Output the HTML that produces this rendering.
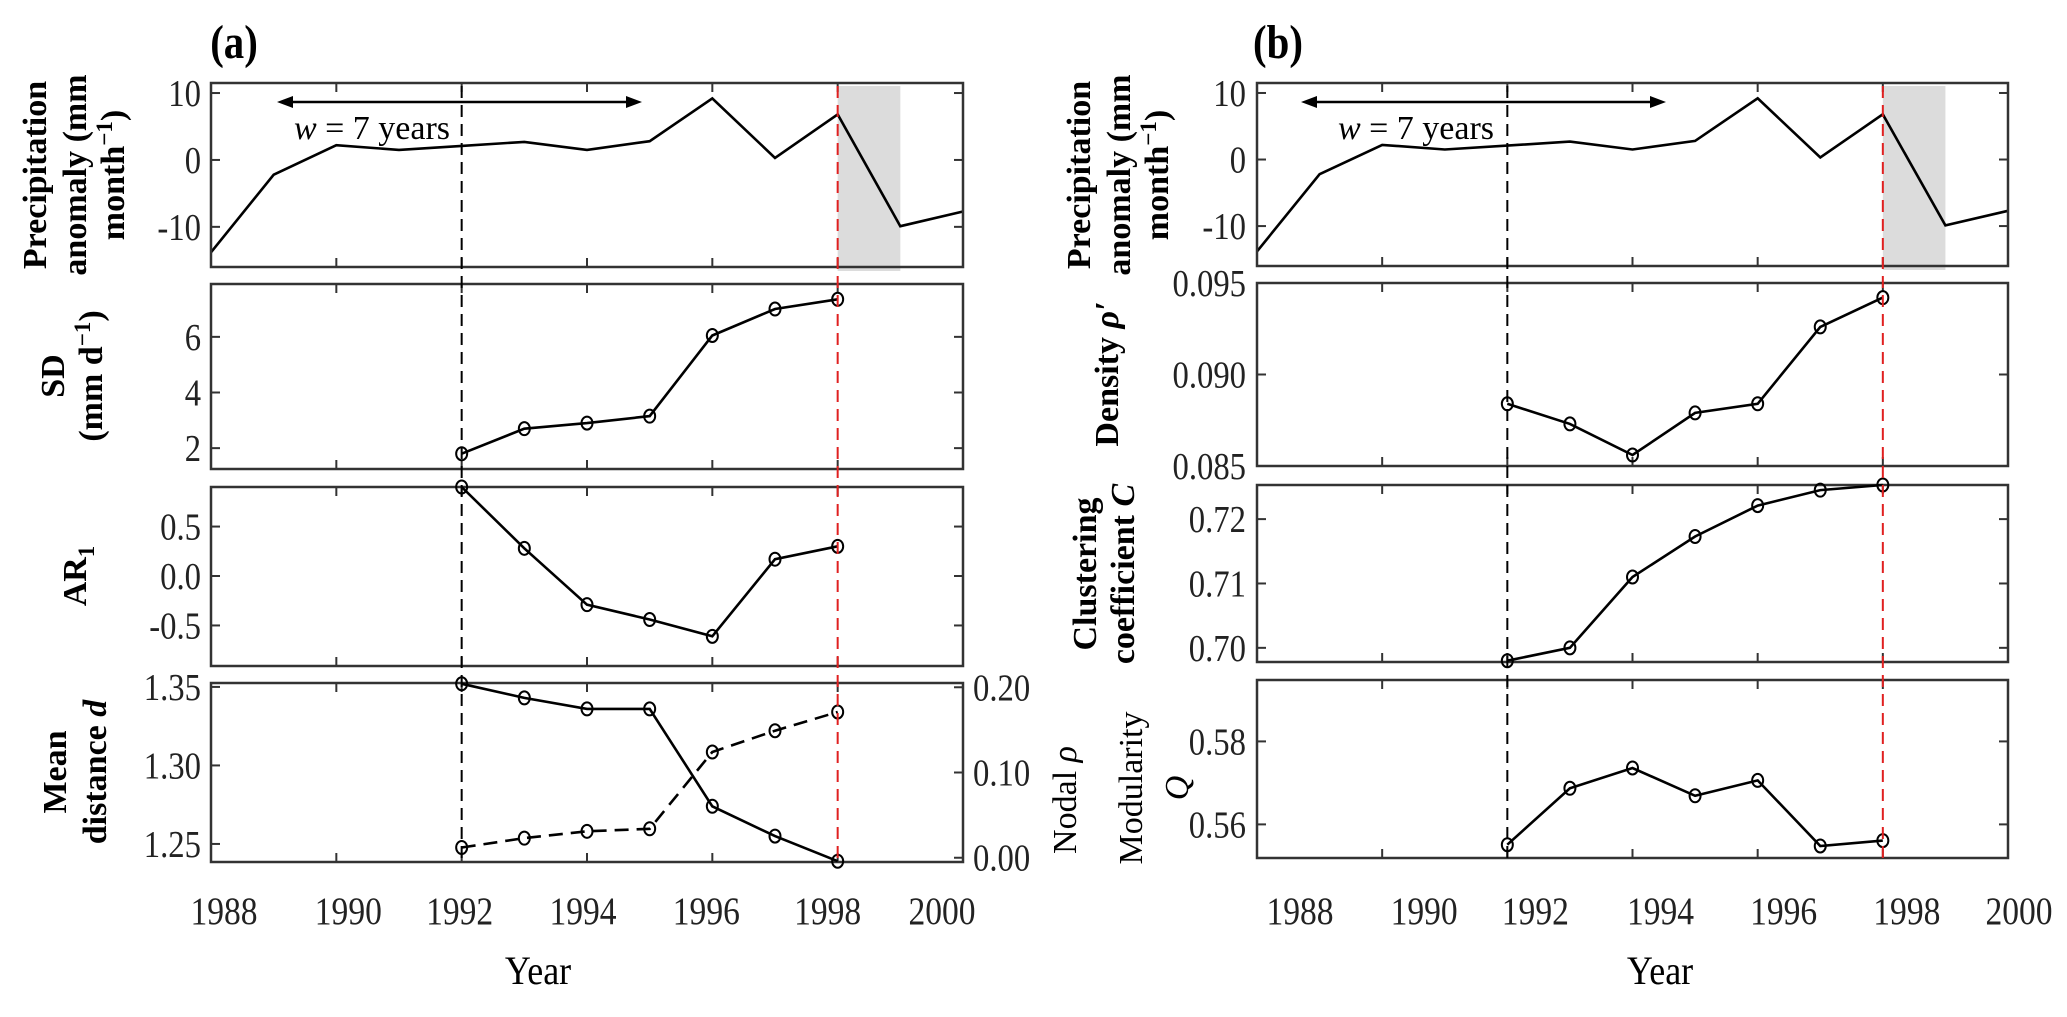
<!DOCTYPE html>
<html><head><meta charset="utf-8"><style>
html,body{margin:0;padding:0;background:#fff;}
svg{display:block;font-family:"Liberation Serif",serif;}
</style></head><body>
<svg id="fig" width="2067" height="1017" viewBox="0 0 2067 1017" xmlns="http://www.w3.org/2000/svg"></svg>
<script>
// ---- data ----
const precipYears = [1988,1989,1990,1991,1992,1993,1994,1995,1996,1997,1998,1999,2000];
const precipValues = [-13.8,-2.2,2.2,1.5,2.1,2.7,1.5,2.8,9.2,0.3,6.8,-9.9,-7.7];
const metricYears = [1992,1993,1994,1995,1996,1997,1998];
const sdValues = [1.8,2.7,2.9,3.15,6.05,7.0,7.35];
const ar1Values = [0.9,0.28,-0.29,-0.44,-0.61,0.17,0.3];
const meanDistValues = [1.352,1.343,1.336,1.336,1.274,1.255,1.239];
const nodalRhoValues = [0.012,0.023,0.031,0.034,0.124,0.149,0.171];
const densityValues = [0.0884,0.0873,0.0856,0.0879,0.0884,0.0926,0.0942];
const clusteringValues = [0.698,0.700,0.711,0.7173,0.7221,0.7245,0.7253];
const modularityValues = [0.5551,0.5687,0.5736,0.5669,0.5706,0.5548,0.5561];
const xTickYears = [1990,1992,1994,1996,1998];
const xLabelYears = [1988,1990,1992,1994,1996,1998,2000];
const precipTicks = [-10,0,10];
const sdTicks = [2,4,6];
const ar1Ticks = [-0.5,0,0.5];
const meanDistTicks = [1.25,1.30,1.35];
const nodalTicks = [0,0.1,0.2];
const densityTicks = [0.085,0.090,0.095];
const clusterTicks = [0.70,0.71,0.72];
const modTicks = [0.56,0.58];
const warningYear = 1998, startYear = 1992, bandEnd = 1999;

const NS = "http://www.w3.org/2000/svg";
const svg = document.getElementById('fig');
function el(tag, attrs, parent){const e=document.createElementNS(NS,tag);for(const k in attrs)e.setAttribute(k,attrs[k]);(parent||svg).appendChild(e);return e;}
function txt(s, attrs, parent, squeeze){const t=el('text',attrs,parent);t.textContent=s;if(squeeze){const w=t.getComputedTextLength();if(w>0){t.setAttribute('textLength',(w*squeeze).toFixed(1));t.setAttribute('lengthAdjust','spacingAndGlyphs');}}return t;}

function makeX(x0,x1){return y=>x0+(y-1988)*(x1-x0)/12;}
function makeY(top,bot,d0,d1){return v=>bot-(v-d0)*(bot-top)/(d1-d0);}

function frame(g,x0,x1,top,bot,X){
  el('rect',{x:x0,y:top,width:x1-x0,height:bot-top,fill:'none',stroke:'#333','stroke-width':2.5},g);
  xTickYears.forEach(yr=>{const x=X(yr);
    el('line',{x1:x,x2:x,y1:top,y2:top+9,stroke:'#333','stroke-width':2},g);
    el('line',{x1:x,x2:x,y1:bot,y2:bot-9,stroke:'#333','stroke-width':2},g);});
}
function yTicks(g,x0,x1,Y,ticks,fmt,labelX,anchor,mirror){
  ticks.forEach(v=>{const y=Y(v);
    el('line',{x1:x0,x2:x0+9,y1:y,y2:y,stroke:'#333','stroke-width':2},g);
    if(mirror) el('line',{x1:x1,x2:x1-9,y1:y,y2:y,stroke:'#333','stroke-width':2},g);
    const t=txt(fmt(v),{x:labelX,y:y+13,'font-size':38,'text-anchor':anchor,fill:'#222'},g,0.86);
    
    
  });
}
function series(g,X,Y,xs,vs,dashed,markers,name){
  const d=xs.map((x,i)=>(i?'L':'M')+X(x).toFixed(1)+' '+Y(vs[i]).toFixed(1)).join(' ');
  const p=el('path',{d:d,fill:'none',stroke:'#000','stroke-width':2.6,'stroke-dasharray':dashed?'14 8':'none'},g);
  
  
  if(markers) xs.forEach((x,i)=>{
    const c=el('ellipse',{cx:X(x),cy:Y(vs[i]),rx:5.5,ry:6.5,fill:'none',stroke:'#000','stroke-width':2},g);
    
    
  });
}
function ylabel(g,lines,cx,cy,bold){
  lines.forEach(L=>{
    const t=el('text',{x:0,y:0,'font-size':34,'font-weight':bold?'bold':'normal','text-anchor':'middle',transform:`translate(${L.x},${cy}) rotate(-90)`},g);
    
    
    t.innerHTML=L.html;
  });
}

function buildPanel(cfg){
  const g=el('g',{});
  
  
  const X=makeX(cfg.x0,cfg.x1);
  const rows=cfg.rows;
  const band=el('rect',{x:X(warningYear),y:rows[0][0]+3,width:X(bandEnd)-X(warningYear),height:rows[0][1]-rows[0][0]+1,fill:'#dcdcdc'},g);
  
  
  const Yp=makeY(rows[0][0],rows[0][1],-16.0,11.5);
  series(g,X,Yp,precipYears,precipValues,false,false,'precipitation');
  frame(g,cfg.x0,cfg.x1,rows[0][0],rows[0][1],X);
  yTicks(g,cfg.x0,cfg.x1,Yp,precipTicks,v=>String(v),cfg.tickX,'end',true);
  cfg.metrics.forEach((m,i)=>{
    const r=rows[i+1];
    const Y=makeY(r[0],r[1],m.d0,m.d1);
    frame(g,cfg.x0,cfg.x1,r[0],r[1],X);
    yTicks(g,cfg.x0,cfg.x1,Y,m.ticks,m.fmt,cfg.tickX,'end',!m.right);
    series(g,X,Y,metricYears,m.values,false,true,m.id);
    if(m.right){
      const Y2=makeY(r[0],r[1],m.right.d0,m.right.d1);
      m.right.ticks.forEach(v=>{const y=Y2(v);
        el('line',{x1:cfg.x1,x2:cfg.x1-9,y1:y,y2:y,stroke:'#333','stroke-width':2},g);
        const t=txt(v.toFixed(2),{x:cfg.x1+10,y:y+13,'font-size':38,fill:'#222'},g,0.86);
        
        
      });
      series(g,X,Y2,metricYears,m.right.values,true,true,'nodal-rho');
    }
  });
  const top=rows[0][0]+3, bot=rows[3][1];
  const v1=el('line',{x1:X(startYear),x2:X(startYear),y1:top,y2:bot,stroke:'#000','stroke-width':2,'stroke-dasharray':'12 7'},g);
  
  
  const v2=el('line',{x1:X(warningYear),x2:X(warningYear),y1:top,y2:bot,stroke:'#e02020','stroke-width':2,'stroke-dasharray':'12 7'},g);
  
  
  const ay=102, a0=cfg.arrow[0], a1=cfg.arrow[1];
  const arr=el('g',{},g);
  
  
  el('line',{x1:a0+8,x2:a1-8,y1:ay,y2:ay,stroke:'#000','stroke-width':2.5},arr);
  el('path',{d:`M${a0} ${ay} L${a0+16} ${ay-6} L${a0+16} ${ay+6}Z`,fill:'#000'},arr);
  el('path',{d:`M${a1} ${ay} L${a1-16} ${ay-6} L${a1-16} ${ay+6}Z`,fill:'#000'},arr);
  const wt=el('text',{x:cfg.arrowText,y:139,'font-size':34,'text-anchor':'middle'},g);
  
  
  wt.innerHTML='<tspan font-style="italic">w</tspan> = 7 years';
  xLabelYears.forEach((yr,i)=>{
    const t=txt(String(yr),{x:X(yr)+cfg.labelNudge[i],y:924,'font-size':39,'text-anchor':'middle',fill:'#222'},g,0.86);
    
    
  });
  const xt=txt('Year',{x:cfg.yearX,y:984,'font-size':40,'text-anchor':'middle'},g,0.9);
  
  
  const pt=txt(cfg.title,{x:cfg.titleX,y:58,'font-size':48,'font-weight':'bold','text-anchor':'middle'},g,0.85);
  
  
  cfg.labels.forEach(l=>ylabel(g,l.lines,0,l.cy,l.bold));
}

const f2=v=>v.toFixed(2), f1=v=>v.toFixed(1), f3=v=>v.toFixed(3);
buildPanel({name:'panel-a',title:'(a)',titleX:234,x0:211,x1:963,tickX:201,
  rows:[[83,267],[284,469],[487,666],[683,862]],
  arrow:[277,642],arrowText:372,yearX:538,
  labelNudge:[13,12,-2,-4,-6,-10,-21],
  metrics:[
    {id:'sd',values:sdValues,d0:1.25,d1:7.9,ticks:sdTicks,fmt:v=>String(v)},
    {id:'ar1',values:ar1Values,d0:-0.91,d1:0.9,ticks:ar1Ticks,fmt:f1},
    {id:'mean-distance',values:meanDistValues,d0:1.2385,d1:1.3525,ticks:meanDistTicks,fmt:f2,
     right:{values:nodalRhoValues,d0:-0.005,d1:0.205,ticks:nodalTicks}}
  ],
  labels:[
    {cy:175,bold:true,lines:[{x:46,html:'Precipitation'},{x:86,html:'anomaly (mm'},{x:124,html:'month<tspan dy="-12" font-size="23">−1</tspan><tspan dy="12">)</tspan>'}]},
    {cy:376,bold:true,lines:[{x:64,html:'SD'},{x:102,html:'(mm d<tspan dy="-12" font-size="23">−1</tspan><tspan dy="12">)</tspan>'}]},
    {cy:576,bold:true,lines:[{x:86,html:'AR<tspan dy="8" font-size="23">1</tspan>'}]},
    {cy:772,bold:true,lines:[{x:66,html:'Mean'},{x:106,html:'distance <tspan font-style="italic">d</tspan>'}]}
  ]});
buildPanel({name:'panel-b',title:'(b)',titleX:1278,x0:1257,x1:2008,tickX:1246,
  rows:[[83,266],[283,466],[485,662],[680,858]],
  arrow:[1301,1666],arrowText:1416,yearX:1660,
  labelNudge:[43,42,28,28,26,24,11],
  metrics:[
    {id:'density',values:densityValues,d0:0.085,d1:0.095,ticks:densityTicks,fmt:f3},
    {id:'clustering',values:clusteringValues,d0:0.6978,d1:0.7253,ticks:clusterTicks,fmt:f2},
    {id:'modularity',values:modularityValues,d0:0.5519,d1:0.5948,ticks:modTicks,fmt:f2}
  ],
  labels:[
    {cy:175,bold:true,lines:[{x:1090,html:'Precipitation'},{x:1130,html:'anomaly (mm'},{x:1168,html:'month<tspan dy="-12" font-size="23">−1</tspan><tspan dy="12">)</tspan>'}]},
    {cy:374,bold:true,lines:[{x:1118,html:'Density <tspan font-style="italic">ρ′</tspan>'}]},
    {cy:574,bold:true,lines:[{x:1096,html:'Clustering'},{x:1134,html:'coefficient <tspan font-style="italic">C</tspan>'}]},
    {cy:800,bold:false,lines:[{x:1076,html:'Nodal <tspan font-style="italic">ρ</tspan>'}]},
    {cy:788,bold:false,lines:[{x:1142,html:'Modularity'},{x:1188,html:'<tspan font-style="italic">Q</tspan>'}]}
  ]});
</script>
</body></html>
